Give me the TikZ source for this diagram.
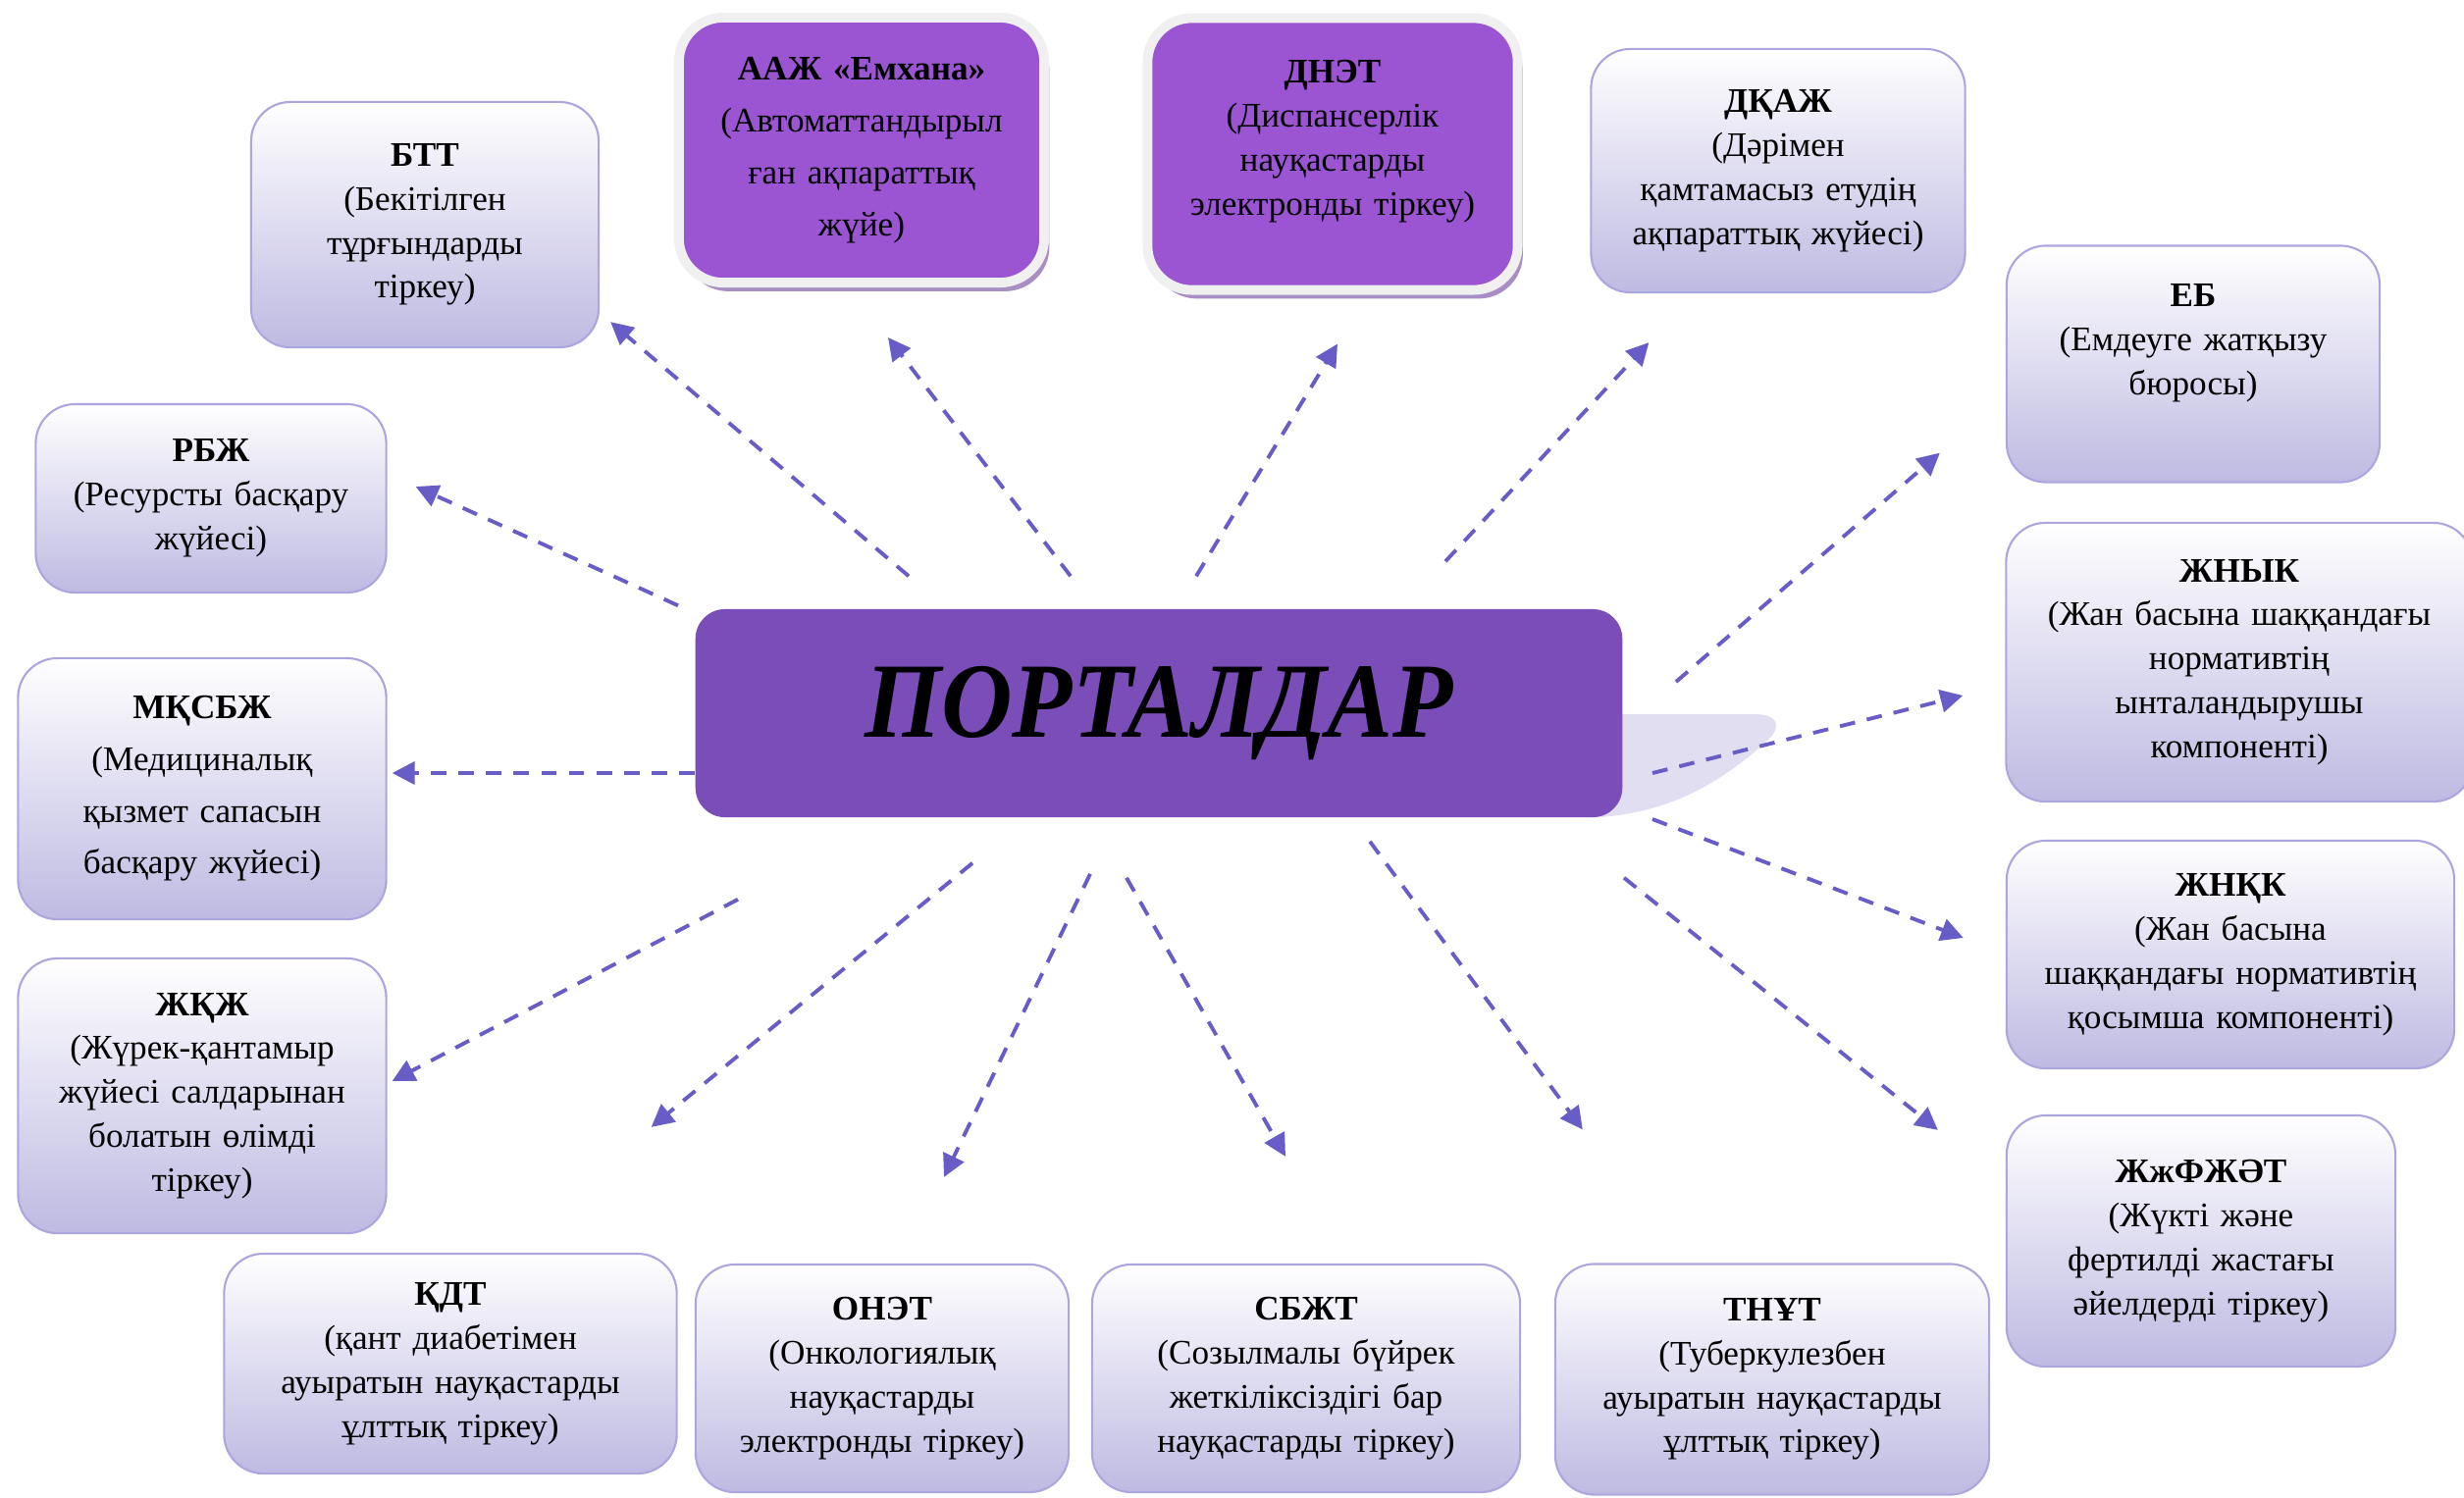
\documentclass[tikz,border=0pt]{standalone}
\usepackage{fontspec}
\setmainfont{Liberation Serif}
\newfontfamily\portalfont[FakeStretch=0.92]{Liberation Serif}
\usepackage{tikz}
\usetikzlibrary{shapes.geometric, arrows, arrows.meta, shadows}
\definecolor{boxline}{RGB}{172,166,222}
\definecolor{boxbottom}{RGB}{190,186,226}
\definecolor{violetfill}{RGB}{155,85,210}
\definecolor{violetshadow}{RGB}{168,142,196}
\definecolor{portalfill}{RGB}{122,77,184}
\definecolor{tailfill}{RGB}{224,222,240}
\definecolor{arrowcol}{RGB}{104,92,198}
\tikzstyle{subsys} = [rectangle, rounded corners=0.4cm, draw=boxline, line width=0.6pt, top color=white, bottom color=boxbottom, align=center, inner sep=2pt, font=\fontsize{10}{12.75}\selectfont]
\tikzstyle{purplebox} = [rectangle, rounded corners=0.45cm, draw=white!94!black, line width=2.8pt, fill=violetfill, drop shadow={shadow xshift=1.5pt, shadow yshift=-2.5pt, fill=violetshadow, opacity=1}, align=center, inner sep=2pt, font=\fontsize{10}{12.75}\selectfont]
\tikzstyle{portalbox} = [rectangle, rounded corners=0.3cm, fill=portalfill, minimum width=9.44cm, minimum height=2.12cm, font=\portalfont\fontsize{31}{31}\selectfont\bfseries\itshape]
\tikzstyle{arrow} = [line width=1.1pt, dash pattern=on 4.5pt off 3.5pt, ->, >={Triangle[length=6.5pt,width=6.5pt]}, draw=arrowcol]

\begin{document}
\begin{tikzpicture}[x=0.01cm, y=-0.01cm]
\useasboundingbox (0,0) rectangle (2511,1526);
\fill [tailfill] (1600,728) -- (1788,728) .. controls (1812,728) and (1816,740) .. (1802,754) .. controls (1752,800) and (1700,828) .. (1630,833) -- cycle;
\node (portal) [portalbox] at (1181,727) {ПОРТАЛДАР};

\node (btt) [subsys, minimum width=3.54cm, minimum height=2.5cm, text width=3.3cm] at (433,229) {\textbf{БТТ}\\(Бекітілген\\тұрғындарды\\тіркеу)};
\node (aazh) [purplebox, minimum width=3.72cm, minimum height=2.7cm, text width=3.5cm, font=\fontsize{10}{15}\selectfont] at (878,153) {\textbf{ААЖ «Емхана»}\\(Автоматтандырыл\\ған ақпараттық\\жүйе)};
\node (dnet) [purplebox, minimum width=3.77cm, minimum height=2.77cm, text width=3.5cm, text depth=1.68cm] at (1358,157) {\textbf{ДНЭТ}\\(Диспансерлік\\науқастарды\\электронды тіркеу)};
\node (dkazh) [subsys, minimum width=3.81cm, minimum height=2.48cm, text width=3.6cm] at (1812,174) {\textbf{ДҚАЖ}\\(Дәрімен\\қамтамасыз етудің\\ақпараттық жүйесі)};
\node (eb) [subsys, minimum width=3.8cm, minimum height=2.41cm, text width=3.6cm, text depth=1.4cm] at (2235,371) {\textbf{ЕБ}\\(Емдеуге жатқызу\\бюросы)};
\node (rbzh) [subsys, minimum width=3.57cm, minimum height=1.92cm, text width=3.4cm] at (215,508) {\textbf{РБЖ}\\(Ресурсты басқару\\жүйесі)};
\node (mksbzh) [subsys, minimum width=3.75cm, minimum height=2.66cm, text width=3.5cm, font=\fontsize{10}{15}\selectfont] at (206,804) {\textbf{МҚСБЖ}\\(Медициналық\\қызмет сапасын\\басқару жүйесі)};
\node (zhkzh) [subsys, minimum width=3.75cm, minimum height=2.8cm, text width=3.5cm] at (206,1117) {\textbf{ЖҚЖ}\\(Жүрек-қантамыр\\жүйесі салдарынан\\болатын өлімді\\тіркеу)};
\node (zhnyk) [subsys, minimum width=4.75cm, minimum height=2.84cm, text width=4.5cm] at (2282,675) {\textbf{ЖНЫК}\\(Жан басына шаққандағы\\нормативтің\\ынталандырушы\\компоненті)};
\node (zhnkk) [subsys, minimum width=4.56cm, minimum height=2.32cm, text width=4.3cm] at (2273,973) {\textbf{ЖНҚК}\\(Жан басына\\шаққандағы нормативтің\\қосымша компоненті)};
\node (zhzhft) [subsys, minimum width=3.96cm, minimum height=2.56cm, text width=3.7cm] at (2243,1265) {\textbf{ЖжФЖӘТ}\\(Жүкті және\\фертилді жастағы\\әйелдерді тіркеу)};
\node (kdt) [subsys, minimum width=4.61cm, minimum height=2.24cm, text width=4.4cm] at (459,1390) {\textbf{ҚДТ}\\(қант диабетімен\\ауыратын науқастарды\\ұлттық тіркеу)};
\node (onet) [subsys, minimum width=3.8cm, minimum height=2.32cm, text width=3.6cm] at (899,1405) {\textbf{ОНЭТ}\\(Онкологиялық\\науқастарды\\электронды тіркеу)};
\node (sbzht) [subsys, minimum width=4.36cm, minimum height=2.32cm, text width=4.1cm] at (1331,1405) {\textbf{СБЖТ}\\(Созылмалы бүйрек\\жеткіліксіздігі бар\\науқастарды тіркеу)};
\node (tnut) [subsys, minimum width=4.42cm, minimum height=2.35cm, text width=4.2cm] at (1806,1406) {\textbf{ТНҰТ}\\(Туберкулезбен\\ауыратын науқастарды\\ұлттық тіркеу)};

\draw [arrow] ([shift={(-255,-33)}]portal.north) -- ([shift={(11,-27)}]btt.south east);
\draw [arrow] ([shift={(-90,-33)}]portal.north) -- ([shift={(27,51)}]aazh.south);
\draw [arrow] ([shift={(38,-33)}]portal.north) -- ([shift={(5,50)}]dnet.south);
\draw [arrow] ([shift={(292,-48)}]portal.north) -- ([shift={(60,50)}]dkazh.south west);
\draw [arrow] ([shift={(54,-32)}]portal.east) -- ([shift={(-67,-31)}]eb.south west);
\draw [arrow] ([shift={(30,61)}]portal.east) -- ([shift={(-43,34)}]zhnyk.west);
\draw [arrow] ([shift={(30,108)}]portal.east) -- ([shift={(-43,-17)}]zhnkk.west);
\draw [arrow] ([shift={(1,61)}]portal.south east) -- ([shift={(-69,16)}]zhzhft.north west);
\draw [arrow] ([shift={(215,24)}]portal.south) -- ([shift={(29,-136)}]tnut.north west);
\draw [arrow] ([shift={(-33,61)}]portal.south) -- ([shift={(-21,-109)}]sbzht.north);
\draw [arrow] ([shift={(-70,57)}]portal.south) -- ([shift={(63,-88)}]onet.north);
\draw [arrow] ([shift={(-190,46)}]portal.south) -- ([shift={(-27,-128)}]kdt.north east);
\draw [arrow] ([shift={(44,83)}]portal.south west) -- ([shift={(5,-15)}]zhkzh.east);
\draw [arrow] ([shift={(0,61)}]portal.west) -- ([shift={(5,-16)}]mksbzh.east);
\draw [arrow] ([shift={(-17,-3)}]portal.north west) -- ([shift={(29,-12)}]rbzh.east);
\end{tikzpicture}
\end{document}
